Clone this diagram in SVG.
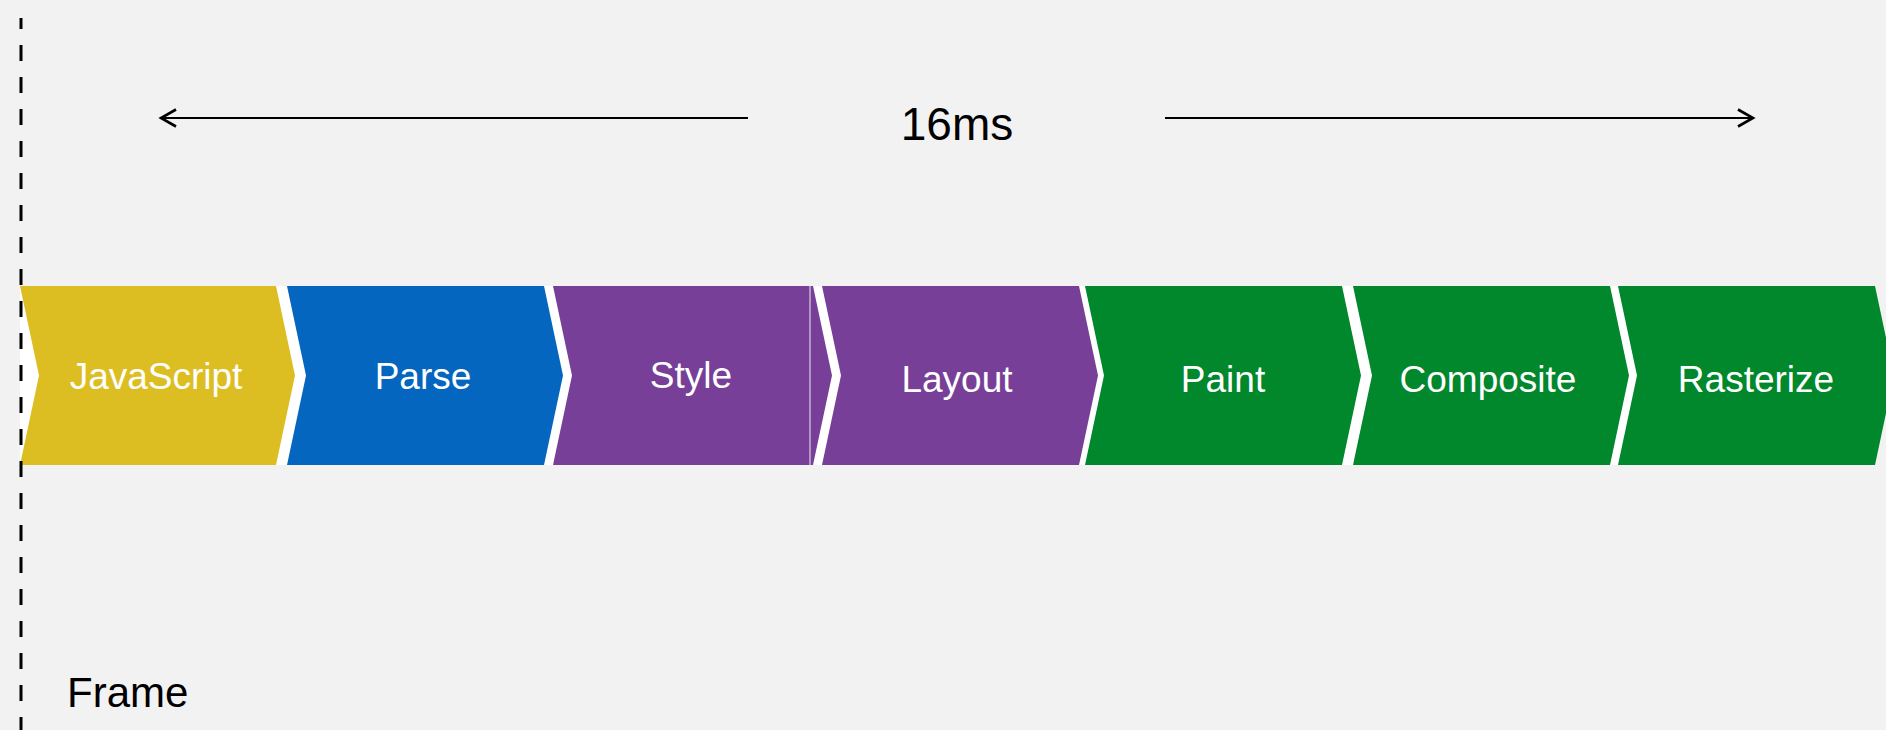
<svg xmlns="http://www.w3.org/2000/svg" width="1886" height="730" viewBox="0 0 1886 730">
  <defs>
    <style>
      .lbl { font-family: "Liberation Sans", Arial, sans-serif; font-size: 37px; fill: #ffffff; text-anchor: middle; }
      .js { fill: #DCBE23; }
      .parse { fill: #0466BF; }
      .style { fill: #773F98; }
      .paint { fill: #01872C; }
      .conn { stroke: #000000; stroke-width: 2; fill: none; }
    </style>
    <marker id="arr" markerWidth="20" markerHeight="20" refX="16" refY="10" orient="auto-start-reverse" markerUnits="userSpaceOnUse">
      <path d="M1,1.5 L16,10 L1,18.5" fill="none" stroke="#000000" stroke-width="2.6" stroke-linejoin="miter"/>
    </marker>
  </defs>
  <rect x="0" y="0" width="1886" height="730" fill="#F2F2F2"/>
  <!-- white backing of the stage row -->
  <rect x="20" y="286" width="1855" height="179" fill="#FFFFFF"/>

  <g id="javascript">
    <polygon class="js" points="20,286 276,286 295,375.5 276,465 20,465 39,375.5"/>
    <text class="lbl" x="156" y="389">JavaScript</text>
  </g>
  <g id="parse">
    <polygon class="parse" points="287,286 544,286 563,375.5 544,465 287,465 306,375.5"/>
    <text class="lbl" x="423" y="389">Parse</text>
  </g>
  <g id="style">
    <polygon class="style" points="553,286 813,286 832,375.5 813,465 553,465 572,375.5"/>
    <line x1="810" y1="286" x2="810" y2="465" stroke="#C7B3D3" stroke-width="1.5"/>
    <text class="lbl" x="691" y="388">Style</text>
  </g>
  <g id="layout">
    <polygon class="style" points="822,286 1079,286 1098,375.5 1079,465 822,465 841,375.5"/>
    <text class="lbl" x="957" y="392">Layout</text>
  </g>
  <g id="paint">
    <polygon class="paint" points="1085,286 1342,286 1361,375.5 1342,465 1085,465 1104,375.5"/>
    <text class="lbl" x="1223" y="392">Paint</text>
  </g>
  <g id="composite">
    <polygon class="paint" points="1353,286 1610,286 1629,375.5 1610,465 1353,465 1372,375.5"/>
    <text class="lbl" x="1488" y="392">Composite</text>
  </g>
  <g id="rasterize">
    <polygon class="paint" points="1618,286 1875,286 1894,375.5 1875,465 1618,465 1637,375.5"/>
    <text class="lbl" x="1756" y="392">Rasterize</text>
  </g>

  <g id="frame">
    <line x1="21" y1="18" x2="21" y2="730" stroke="#000000" stroke-width="3" stroke-dasharray="16 16" stroke-dashoffset="5"/>
    <text x="67" y="707" font-family="'Liberation Sans', Arial, sans-serif" font-size="42" fill="#000000">Frame</text>
  </g>

  <g id="connectors">
    <line class="conn" x1="748" y1="118" x2="161" y2="118" marker-end="url(#arr)"/>
    <line class="conn" x1="1165" y1="118" x2="1753" y2="118" marker-end="url(#arr)"/>
  </g>
  <g id="duration">
    <text x="957" y="140" font-family="'Liberation Sans', Arial, sans-serif" font-size="46" fill="#000000" text-anchor="middle">16ms</text>
  </g>
</svg>
